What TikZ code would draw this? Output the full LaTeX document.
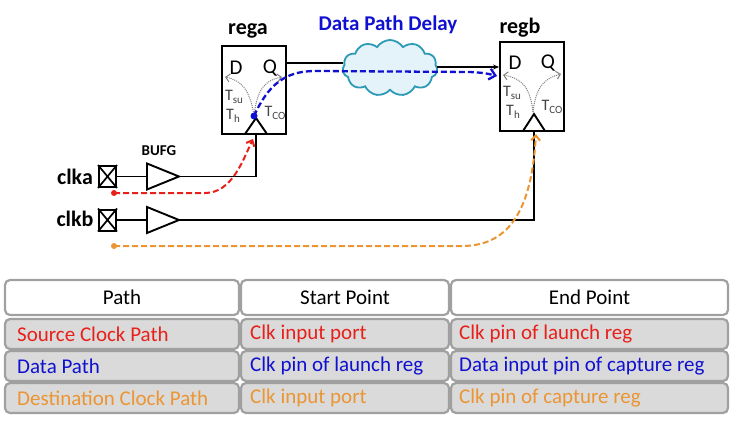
\documentclass[tikz,border=0pt]{standalone}
\usepackage{fontspec}
\setmainfont{Carlito}
\usetikzlibrary{arrows.meta,shapes.symbols,calc}
\definecolor{cred}{HTML}{E8201A}
\definecolor{cblue}{HTML}{1010D0}
\definecolor{corange}{HTML}{EB9533}
\definecolor{cteal}{HTML}{2C9AB5}
\definecolor{cloudfill}{HTML}{E4F2FA}
\definecolor{tgray}{HTML}{A0A0A0}
\definecolor{rowgray}{HTML}{DADADA}
\definecolor{tlab}{HTML}{444444}
\newcommand\tsb[1]{T\raisebox{-0.2em}{\fontsize{11}{11}\selectfont #1}}
\begin{document}
\begin{tikzpicture}[x=1pt,y=-1pt,
  wire/.style={line width=1.9pt, draw=black},
  reg/.style={draw, line width=1.9pt, fill=white, inner sep=0pt},
  port/.style={draw, line width=2pt, minimum width=17pt, minimum height=21pt, inner sep=0pt},
  lbl/.style={font=\fontsize{22}{24}\selectfont\bfseries, inner sep=0pt},
  pin/.style={font=\fontsize{21}{22}\selectfont, inner sep=0pt},
  tl/.style={font=\fontsize{16}{17}\selectfont, text=tlab, inner sep=0pt},
  pathline/.style={line width=2pt, dash pattern=on 6pt off 3pt},
  tarrow/.style={densely dotted, draw=gray, line width=1pt, -{Straight Barb[length=4pt]}},
  cell/.style={draw=tgray, line width=2.2pt, rounded corners=5pt, inner sep=0pt},
  ctext/.style={font=\fontsize{21}{22}\selectfont, inner sep=0pt, anchor=west},
  htext/.style={font=\fontsize{21}{22}\selectfont, inner sep=0pt}
]
\useasboundingbox (0,0) rectangle (735,422);

% registers
\node[reg, minimum width=64pt, minimum height=88pt] (rega) at (254,90) {};
\node[reg, minimum width=64pt, minimum height=89pt] (regb) at (532,86.5) {};
\node[lbl] (la) at (248,31) {rega};
\node[lbl] (lb) at (520,28) {regb};
\node[pin] (da) at (236,68) {D};
\node[pin] (qa) at (270,68) {Q};
\node[pin] (db) at (515,63) {D};
\node[pin] (qb) at (548,63) {Q};
\node[tl] (tsua) at (234,97) {\tsb{su}};
\node[tl] (tha) at (233,116) {\tsb{h}};
\node[tl] (tcoa) at (275,113) {\tsb{CO}};
\node[tl] (tsub) at (512,93) {\tsb{su}};
\node[tl] (thb) at (513,112) {\tsb{h}};
\node[tl] (tcob) at (552,107) {\tsb{CO}};

% clock triangles
\draw[wire] (245,134) -- (256,118) -- (267,134);
\draw[wire] (523,131) -- (534,114) -- (545,131);

% gray timing arrows
\coordinate (oa) at (254,116);
\coordinate (ob) at (533,112);
\draw[tarrow] (oa) .. controls (250,88) and (240,80) .. (225,77);
\draw[tarrow] (oa) .. controls (257,88) and (266,80) .. (282,77);
\draw[tarrow] (ob) .. controls (530,85) and (520,78) .. (503,75);
\draw[tarrow] (ob) .. controls (536,85) and (546,78) .. (561,74);

% ports
\node[port] (pa) at (107.5,176.5) {};
\draw[line width=1.7pt] (pa.north west) -- (pa.south east) (pa.north east) -- (pa.south west);
\node[port] (pb) at (107.5,220) {};
\draw[line width=1.7pt] (pb.north west) -- (pb.south east) (pb.north east) -- (pb.south west);
\node[lbl] (lclka) at (75,177) {clka};
\node[lbl] (lclkb) at (75,219) {clkb};
\node[font=\fontsize{15}{16}\selectfont\bfseries, inner sep=0pt] (bufg) at (159,151) {BUFG};

% buffers
\coordinate (bai) at (147,176.5);
\coordinate (bao) at (179,176.5);
\coordinate (bbi) at (147,220);
\coordinate (bbo) at (179,220);
\draw[wire, line join=miter] (147,163.5) -- (bao) -- (147,189.5) -- cycle;
\draw[wire, line join=miter] (147,207) -- (bbo) -- (147,233) -- cycle;

% clock wires
\coordinate (cka) at (256,134);
\coordinate (ckb) at (534,131);
\draw[wire] (pa.east) -- (bai);
\draw[wire] (bao) -| (cka);
\draw[wire] (pb.east) -- (bbi);
\draw[wire] (bbo) -| (ckb);

% data wires and cloud
\node[cloud, cloud puffs=11, cloud puff arc=115, aspect=1.7, draw=cteal, fill=cloudfill,
      line width=1.8pt, minimum width=95pt, minimum height=56pt, inner sep=0pt] (cl) at (390,68) {};
\node[font=\fontsize{21}{22}\selectfont\bfseries, text=cblue, inner sep=0pt] (dpd) at (388,25) {Data Path Delay};
\coordinate (qout) at (rega.east |- 0,63);
\coordinate (clin) at (343,63);
\coordinate (clout) at (437,67);
\coordinate (din) at (regb.west |- 0,67);
\draw[wire] (qout) -- (clin);
\draw[wire, -{Stealth[length=6pt,width=5pt]}] (clout) -- (din);

% highlighted paths
\coordinate (rs) at (114,193);
\coordinate (os) at (114,246);
\coordinate (re) at (253,139);
\coordinate (oe) at (536,134);
\coordinate (be) at (497,76);
\fill[cred] (rs) circle (3pt);
\draw[pathline, draw=cred, -{Straight Barb[length=5pt,width=9pt]}] (rs) -- (205,193) .. controls (232,193) and (243,160) .. (re);
\fill[corange] (os) circle (3pt);
\draw[pathline, draw=corange, -{Straight Barb[length=5pt,width=9pt]}] (os) -- (462,246) .. controls (515,246) and (532,200) .. (oe);
\draw[pathline, line width=2.3pt, draw=cblue, -{Straight Barb[length=6pt,width=11pt]}] (oa) .. controls (268,85) and (285,71) .. (315,71) -- (470,72) .. controls (485,73) .. (be);
\fill[cblue] (oa) circle (3.5pt);

% table
\node[cell, fill=white, minimum width=234pt, minimum height=35pt] (h1) at (122,297.5) {};
\node[cell, fill=white, minimum width=208pt, minimum height=35pt] (h2) at (345,297.5) {};
\node[cell, fill=white, minimum width=277pt, minimum height=35pt] (h3) at (589.5,297.5) {};
\foreach \r/\y in {1/334,2/366,3/398}{
  \node[cell, fill=rowgray, minimum width=234pt, minimum height=30pt] (c\r1) at (122,\y) {};
  \node[cell, fill=rowgray, minimum width=208pt, minimum height=30pt] (c\r2) at (345,\y) {};
  \node[cell, fill=rowgray, minimum width=277pt, minimum height=30pt] (c\r3) at (589.5,\y) {};
}
\node[htext] (th1) at (h1) {Path};
\node[htext] (th2) at (h2) {Start Point};
\node[htext] (th3) at (h3) {End Point};
\node[ctext, text=cred] (t11) at (17,334) {Source Clock Path};
\node[ctext, text=cred] (t12) at (250,334) {Clk input port};
\node[ctext, text=cred] (t13) at (459,334) {Clk pin of launch reg};
\node[ctext, text=cblue] (t21) at (17,366) {Data Path};
\node[ctext, text=cblue] (t22) at (250,366) {Clk pin of launch reg};
\node[ctext, text=cblue] (t23) at (459,366) {Data input pin of capture reg};
\node[ctext, text=corange] (t31) at (17,398) {Destination Clock Path};
\node[ctext, text=corange] (t32) at (250,398) {Clk input port};
\node[ctext, text=corange] (t33) at (459,398) {Clk pin of capture reg};
\end{tikzpicture}
\end{document}
